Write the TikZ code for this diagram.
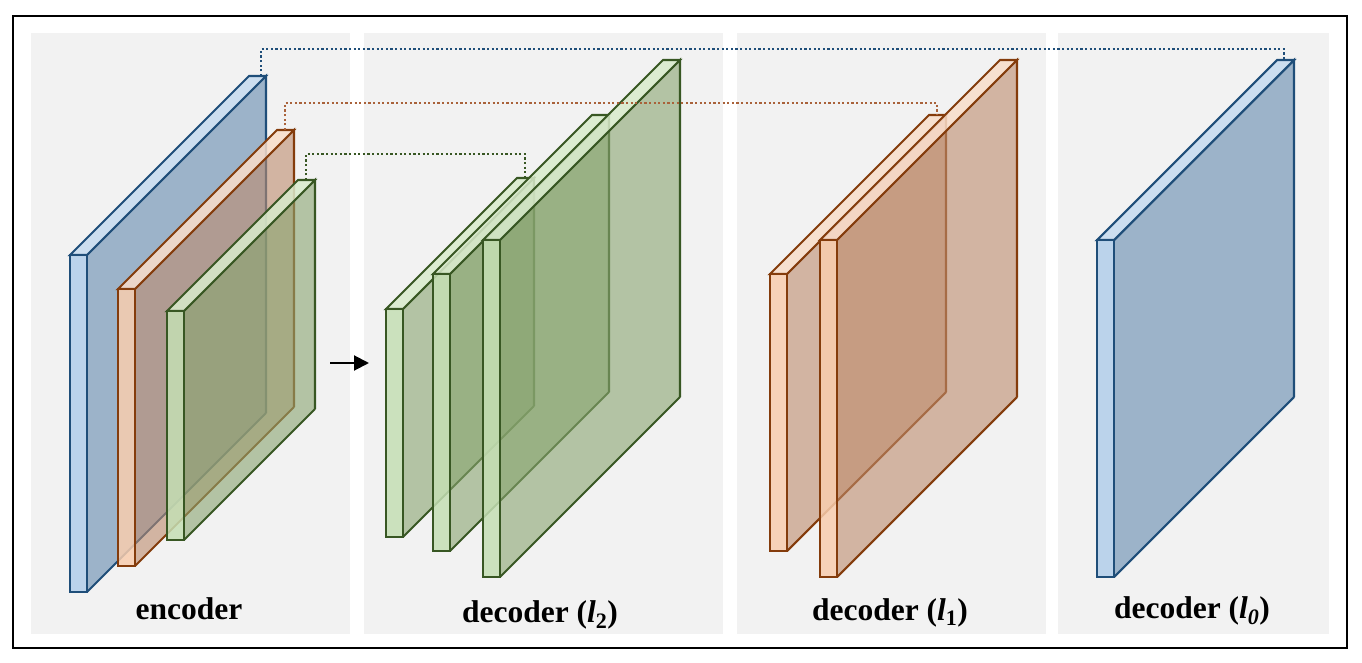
\documentclass[tikz,border=0pt]{standalone}
\usepackage{fontspec}
\setmainfont{Liberation Serif}
\usetikzlibrary{arrows.meta}
\definecolor{panel}{HTML}{F2F2F2}
\definecolor{blueD}{HTML}{1F4E79}
\definecolor{blueF}{HTML}{B2CEEA}
\definecolor{blueT}{HTML}{C6DBEF}
\definecolor{blueS}{HTML}{6489AE}
\definecolor{orangeD}{HTML}{843C0C}
\definecolor{orangeF}{HTML}{F8CDAE}
\definecolor{orangeT}{HTML}{F9DDCA}
\definecolor{orangeS}{HTML}{BE8C6E}
\definecolor{greenD}{HTML}{385723}
\definecolor{greenF}{HTML}{C5DFB4}
\definecolor{greenT}{HTML}{D9EBCC}
\definecolor{greenS}{HTML}{89A570}
\definecolor{orangeDot}{HTML}{A9623A}
\tikzset{
  panelbox/.style={fill=panel, draw=none},
  label/.style={font=\fontsize{31.5}{36}\selectfont\bfseries, anchor=base, inner sep=0pt},
  link/.style={line width=2pt, dash pattern=on 2.2pt off 2.4pt},
  edge/.style={line width=2.1pt},
}
% #1 name, #2 x0, #3 ytop, #4 ybot, #5 depth, #6 colour prefix
\newcommand\slabbox[6]{%
  \fill[#6S, fill opacity=0.6] ({#2+17},#3) -- ({#2+17+#5},{#3-#5}) -- ({#2+17+#5},{#4-#5}) -- ({#2+17},#4) -- cycle;
  \draw[#6D, edge, line join=miter] ({#2+17},#3) -- ({#2+17+#5},{#3-#5}) -- ({#2+17+#5},{#4-#5});
  \filldraw[fill=#6T, fill opacity=0.85, draw=#6D, edge] (#2,#3) -- ({#2+#5},{#3-#5}) -- ({#2+17+#5},{#3-#5}) -- ({#2+17},#3) -- cycle;
  \filldraw[fill=#6F, fill opacity=0.85, draw=#6D, edge] (#2,#3) rectangle ({#2+17},#4);
  \draw[#6D, edge] ({#2+17},#4) -- ({#2+17+#5},{#4-#5});
  \coordinate (#1-top) at ({#2+#5},{#3-#5});
}
\begin{document}
\begin{tikzpicture}[x=1pt, y=-1pt]
\useasboundingbox (0,0) rectangle (1362,663);
\draw[line width=2pt] (13,16) rectangle (1347,648);
\fill[panelbox] (31,33) rectangle (350,634);
\fill[panelbox] (364,33) rectangle (723,634);
\fill[panelbox] (737,33) rectangle (1046,634);
\fill[panelbox] (1058,33) rectangle (1329,634);

% encoder
\slabbox{encB}{70}{255}{592}{179}{blue}
\slabbox{encO}{118}{289}{566}{159}{orange}
\slabbox{encG}{167}{311}{540}{131}{green}
% decoder l2
\slabbox{dtwoA}{386}{309}{537}{131}{green}
\slabbox{dtwoB}{433}{274}{551}{159}{green}
\slabbox{dtwoC}{483}{240}{577}{180}{green}
% decoder l1
\slabbox{doneA}{770}{274}{551}{159}{orange}
\slabbox{doneB}{820}{240}{577}{180}{orange}
% decoder l0
\slabbox{dzero}{1097}{240}{577}{180}{blue}

% arrow
\coordinate (arrS) at (330,363);
\coordinate (arrE) at (369,363);
\draw[line width=2pt, -{Triangle[length=15pt,width=15pt]}] (arrS) -- (arrE);

% skip links
\draw[link, blueD] ([xshift=12pt]encB-top) -- ++(0,-27) -| ([xshift=7pt]dzero-top);
\draw[link, orangeDot] ([xshift=8pt]encO-top) -- ++(0,-27) -| ([xshift=8pt]doneA-top);
\draw[link, greenD] ([xshift=8pt]encG-top) -- ++(0,-26) -| ([xshift=8pt]dtwoA-top);

% labels
\node[label] (lenc) at (189,619) {encoder};
\node[label] (ltwo) at (540,622) {decoder (\textit{l}\textsubscript{2})};
\node[label] (lone) at (890,620) {decoder (\textit{l}\textsubscript{1})};
\node[label] (lzero) at (1192,618) {decoder (\textit{l\textsubscript{0}})};
\end{tikzpicture}
\end{document}
